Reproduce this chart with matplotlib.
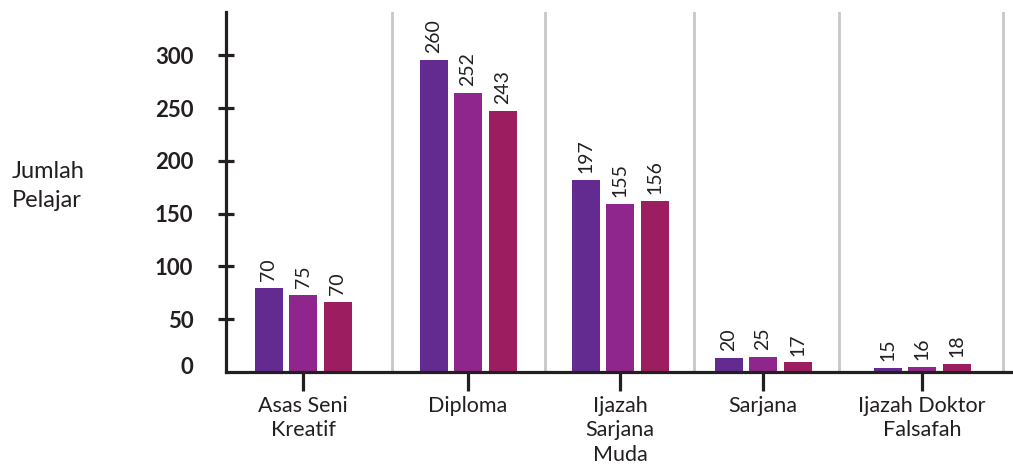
import matplotlib.pyplot as plt
import matplotlib.transforms as mtransforms
import numpy as np

plt.rcParams["font.family"] = ["Lato", "DejaVu Sans"]

# data
categories = ["Asas Seni\nKreatif", "Diploma", "Ijazah\nSarjana\nMuda", "Sarjana",
              "Ijazah Doktor\nFalsafah"]
# bar heights as drawn
series_a = [79.5, 295.5, 182, 13, 4]
series_b = [73, 264, 159, 14, 5]
series_c = [66, 247, 162, 9, 7.5]
# printed value labels
labels_a = [70, 260, 197, 20, 15]
labels_b = [75, 252, 155, 25, 16]
labels_c = [70, 243, 156, 17, 18]
y_ticks = [0, 50, 100, 150, 200, 250, 300]

colors = ["#632b8f", "#8f268d", "#9d1e60"]
dark = "#231f20"

# layout (pixel-like x units)
centers = np.array([303, 468, 620, 763, 922])
offsets = [-34.5, 0, 34.5]
separators = [392, 545, 694, 839, 1003]

fig = plt.figure(figsize=(10.13, 4.66), dpi=100)
ax = fig.add_axes([226 / 1013, 94 / 466, 787 / 1013, 360 / 466])
ax.set_xlim(226, 1013)
ax.set_ylim(0, 341)

for xs in separators:
    ax.axvline(xs, color="#c8c8c8", lw=2, zorder=0)

for vals, labs, off, col in zip([series_a, series_b, series_c],
                                [labels_a, labels_b, labels_c], offsets, colors):
    bars = ax.bar(centers + off, vals, width=28, color=col, zorder=2)
    for b, lab in zip(bars, labs):
        ax.annotate(str(lab), (b.get_x() + b.get_width() / 2, b.get_height()),
                    xytext=(0, 5), textcoords="offset points", rotation=90,
                    ha="center", va="bottom", fontsize=14, color=dark)

for s in ["top", "right"]:
    ax.spines[s].set_visible(False)
for s in ["left", "bottom"]:
    ax.spines[s].set_color(dark)
    ax.spines[s].set_linewidth(2.3)

ax.set_yticks(y_ticks)
ax.set_yticklabels([str(v) for v in y_ticks], fontsize=16, fontweight="bold", color=dark)
ax.tick_params(axis="y", direction="inout", length=11, width=2.3, color=dark, pad=18)
ax.yaxis.get_major_ticks()[0].tick1line.set_visible(False)
zero_lab = ax.get_yticklabels()[0]
zero_lab.set_transform(zero_lab.get_transform() +
                       mtransforms.ScaledTranslation(0, 0.07, fig.dpi_scale_trans))

ax.set_xticks(centers)
ax.set_xticklabels(categories, fontsize=15.5, color=dark, linespacing=1.3)
ax.tick_params(axis="x", direction="out", length=14, width=2.3, color=dark, pad=3)

fig.text(12 / 1013, 1 - 186 / 466, "Jumlah\nPelajar", fontsize=17, color=dark,
         ha="left", va="center", linespacing=1.45)

fig.savefig("out.png", dpi=100)
plt.close(fig)
